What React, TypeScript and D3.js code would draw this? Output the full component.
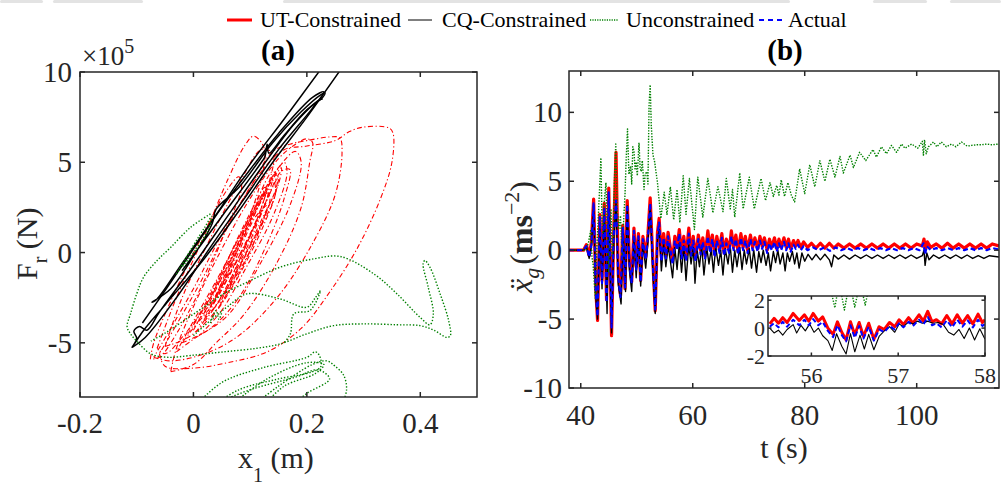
import React from 'react';
import * as d3 from 'd3';

type P = [number, number];

// ---------- Panel (b): time histories [t (s), x''_g (m/s^2)] ----------
const utMain: P[] = [[37.9,0],[40.5,0],[41.0,0.4],[41.5,-0.4],[41.9,0.6],[42.3,3.7],[42.7,-3.0],[43.0,-5.1],[43.4,2.6],[43.8,-2.2],[44.2,3.4],[44.6,-3.6],[45.0,4.5],[45.5,-6.2],[45.9,1.5],[46.3,7.1],[46.7,-1.8],[47.1,-3.3],[47.5,1.8],[47.9,-2.8],[48.3,3.6],[48.7,-0.8],[49.1,-2.3],[49.5,1.6],[49.9,-1.2],[50.3,1.2],[50.7,-2.2],[51.1,1.0],[51.6,-0.5],[52.0,1.2],[52.4,3.8],[52.9,-1.0],[53.3,-4.4],[53.7,1.3],[54.0,2.3],[54.4,-0.5],[54.8,1.2],[55.2,-0.4],[55.6,1.3],[56.0,0.2],[56.4,-0.8],[56.8,1.0],[57.2,0.2],[57.6,1.5],[58.0,-0.3],[58.4,1.0],[58.8,-0.5],[59.3,1.6],[59.7,-0.2],[60.1,1.0],[60.5,-0.6],[61.0,1.1],[61.4,0.0],[61.8,0.9],[62.2,-0.4],[62.7,1.4],[63.1,0.1],[63.5,1.1],[63.9,-0.3],[64.3,1.0],[64.8,0.0],[65.2,1.2],[65.6,-0.2],[66.0,0.8],[66.5,0.0],[66.9,1.4],[67.3,0.2],[67.7,1.1],[68.1,-0.1],[68.6,1.2],[69.0,0.2],[69.4,1.0],[69.8,0.0],[70.3,1.1],[70.7,0.2],[71.1,0.9],[71.6,0.1],[72.0,1.0],[72.4,0.3],[72.8,0.9],[73.3,0.0],[73.7,0.8],[74.1,0.2],[74.6,0.9],[75.0,0.1],[75.4,0.8],[75.8,0.2],[76.3,0.9],[76.7,0.2],[77.1,0.8],[77.5,0.1],[78.0,0.7],[78.4,0.3],[78.8,0.7],[79.3,0.2],[79.8,0.6],[80.5,0.2],[81.2,0.5],[82.0,0.15],[82.8,0.5],[83.6,0.15],[84.4,0.5],[85.2,0.15],[86.0,0.45],[87.0,0.15],[88.0,0.45],[89.0,0.15],[90.0,0.45],[91.0,0.15],[92.0,0.45],[93.0,0.15],[94.0,0.45],[95.0,0.15],[96.0,0.45],[97.0,0.15],[98.0,0.45],[99.0,0.15],[100.0,0.45],[101.0,0.3],[101.3,0.8],[101.6,0.1],[101.9,0.6],[102.5,0.2],[103.5,0.45],[104.5,0.15],[105.5,0.5],[106.5,0.15],[107.5,0.45],[108.5,0.15],[109.5,0.45],[110.5,0.15],[111.5,0.45],[112.5,0.15],[113.5,0.45],[114.7,0.3]];

const cqMain: P[] = [[37.9,0],[40.5,0],[41.0,0.3],[41.5,-0.6],[41.9,0.3],[42.3,3.3],[42.7,-3.5],[43.0,-5.0],[43.4,2.0],[43.8,-2.8],[44.2,3.0],[44.7,-4.6],[45.0,3.5],[45.5,-6.0],[45.9,0.8],[46.3,3.4],[46.7,-2.5],[47.2,-3.9],[47.6,1.2],[48.0,-3.0],[48.3,3.2],[48.7,-1.5],[49.1,-3.0],[49.5,1.0],[49.9,-2.0],[50.3,0.8],[50.7,-2.6],[51.1,0.5],[51.6,-1.3],[52.0,0.6],[52.4,3.3],[52.9,-1.8],[53.3,-4.6],[53.7,0.8],[54.0,1.5],[54.4,-1.5],[54.8,0.5],[55.2,-1.2],[55.6,0.3],[56.0,-0.8],[56.4,-2.0],[56.8,0.2],[57.2,-1.4],[57.6,0.5],[58.0,-1.6],[58.4,0.3],[58.8,-2.2],[59.3,0.4],[59.7,-1.0],[60.1,0.2],[60.4,-2.4],[60.8,0.0],[61.2,-1.2],[61.6,0.3],[62.0,-1.8],[62.5,0.2],[62.9,-1.0],[63.3,0.1],[63.7,-1.6],[64.1,0.2],[64.6,-1.1],[65.0,0.0],[65.4,-1.8],[65.8,0.1],[66.3,-1.0],[66.7,0.3],[67.1,-1.6],[67.5,0.0],[67.9,-1.2],[68.4,0.2],[68.8,-1.4],[69.2,0.0],[69.6,-1.0],[70.1,0.1],[70.5,-1.3],[70.9,0.0],[71.4,-1.6],[71.8,-0.1],[72.2,-0.9],[72.6,0.0],[73.1,-1.1],[73.5,-0.2],[73.9,-1.5],[74.4,-0.1],[74.8,-0.9],[75.2,0.0],[75.6,-1.0],[76.1,-0.2],[76.5,-1.5],[76.9,-0.2],[77.3,-0.8],[77.8,-0.1],[78.2,-1.0],[78.6,-0.2],[79.0,-1.3],[79.5,-0.2],[80.0,-0.8],[80.6,-0.3],[81.3,-0.7],[82.0,-0.3],[82.8,-0.7],[83.6,-0.3],[84.4,-0.7],[84.8,-1.2],[85.2,-0.35],[86.0,-0.65],[87.0,-0.35],[88.0,-0.65],[89.0,-0.35],[90.0,-0.6],[91.0,-0.35],[92.0,-0.6],[93.0,-0.35],[94.0,-0.6],[95.0,-0.35],[96.0,-0.6],[97.0,-0.35],[98.0,-0.6],[99.0,-0.35],[100.0,-0.6],[101.0,-0.4],[101.3,0.0],[101.5,-1.1],[101.8,-0.2],[102.2,-0.7],[103.0,-0.35],[104.0,-0.6],[105.0,-0.35],[106.0,-0.6],[107.0,-0.35],[108.0,-0.6],[109.0,-0.35],[110.0,-0.6],[111.0,-0.4],[112.0,-0.6],[113.0,-0.4],[114.7,-0.5]];

const unMain: P[] = [[37.9,0],[41.0,0],[41.4,0.6],[41.8,1.5],[42.0,-0.5],[42.2,-1.0],[42.6,-3.5],[42.9,0.5],[43.2,3.0],[43.6,6.7],[43.8,2.0],[44.0,0.8],[44.2,3.5],[44.5,4.9],[44.8,0.5],[45.0,-1.6],[45.2,1.5],[45.4,3.0],[45.6,-0.5],[45.8,0.5],[46.0,5.0],[46.25,7.7],[46.5,3.0],[46.8,1.5],[47.1,2.5],[47.4,-0.6],[47.7,2.5],[47.9,4.0],[48.1,6.5],[48.35,8.8],[48.6,5.5],[48.9,6.1],[49.1,4.8],[49.3,7.5],[49.5,7.2],[49.7,5.9],[49.9,6.4],[50.1,5.4],[50.4,7.8],[50.6,6.0],[50.8,5.7],[51.0,6.5],[51.3,4.4],[51.5,5.5],[51.8,5.7],[52.0,4.8],[52.2,10.5],[52.4,12.0],[52.6,9.0],[52.9,6.9],[53.2,6.4],[53.7,4.9],[54.3,2.3],[54.9,4.2],[55.4,2.6],[56.0,4.6],[56.6,2.2],[57.2,4.4],[57.7,2.0],[58.3,5.4],[58.8,2.6],[59.4,5.2],[60.3,1.5],[60.9,5.3],[61.8,2.4],[62.7,5.2],[63.6,2.7],[64.5,4.6],[65.4,2.8],[66.0,5.2],[66.7,3.0],[67.1,4.4],[67.5,2.4],[68.4,5.6],[69.0,3.0],[70.1,5.3],[71.0,3.0],[72.2,5.2],[73.0,3.6],[73.8,4.9],[74.4,3.9],[75.0,4.7],[75.4,4.0],[75.8,5.1],[76.4,3.9],[77.0,4.9],[77.6,4.0],[78.2,3.5],[79.1,5.9],[80.0,4.1],[80.9,6.2],[81.8,4.6],[82.7,6.5],[83.6,5.0],[84.5,6.6],[85.4,5.3],[86.3,6.8],[86.9,5.6],[88.1,6.9],[88.7,6.0],[89.8,7.1],[90.9,6.5],[92.2,7.3],[92.8,6.75],[93.7,7.5],[94.6,7.0],[95.5,7.6],[96.4,7.1],[97.3,7.7],[97.9,7.4],[99.1,7.7],[100.2,7.4],[101.0,7.9],[101.2,6.9],[101.4,8.0],[101.7,7.0],[102.1,7.5],[103.0,7.85],[103.6,7.5],[104.4,7.85],[105.3,7.5],[106.2,7.7],[107.0,7.5],[108.0,7.85],[109.0,7.55],[109.8,7.6],[110.8,7.65],[111.6,7.65],[112.5,7.7],[113.4,7.65],[114.7,7.7]];

const actMain: P[] = [[37.9,0],[40.5,0],[41.0,0.3],[41.5,-0.5],[41.9,0.4],[42.3,3.4],[42.7,-3.1],[43.0,-4.8],[43.4,2.4],[43.8,-2.4],[44.2,3.1],[44.6,-3.8],[45.0,4.2],[45.5,-5.6],[45.9,1.2],[46.3,3.6],[46.7,-2.0],[47.1,-3.4],[47.5,1.6],[47.9,-2.7],[48.3,3.3],[48.7,-1.0],[49.1,-2.4],[49.5,1.4],[49.9,-1.4],[50.3,1.0],[50.7,-2.3],[51.1,0.8],[51.6,-0.7],[52.0,1.0],[52.4,3.4],[52.9,-1.2],[53.3,-4.3],[53.7,1.1],[54.0,2.0],[54.4,-0.8],[54.8,0.9],[55.2,-0.6],[55.6,1.0],[56.0,0.0],[56.4,-1.0],[56.8,0.7],[57.2,0.0],[57.6,1.2],[58.0,-0.6],[58.4,0.7],[58.8,-0.8],[59.3,1.2],[59.7,-0.4],[60.1,0.7],[60.5,-0.8],[61.0,0.8],[61.4,-0.3],[61.8,0.6],[62.2,-0.6],[62.7,1.0],[63.1,-0.2],[63.5,0.8],[63.9,-0.5],[64.3,0.7],[64.8,-0.2],[65.2,0.9],[65.6,-0.4],[66.0,0.5],[66.5,-0.2],[66.9,1.0],[67.3,0.0],[67.7,0.8],[68.1,-0.3],[68.6,0.9],[69.0,0.0],[69.4,0.7],[69.8,-0.2],[70.3,0.8],[70.7,0.0],[71.1,0.6],[71.6,-0.1],[72.0,0.7],[72.4,0.1],[72.8,0.6],[73.3,-0.2],[73.7,0.5],[74.1,0.0],[74.6,0.6],[75.0,-0.1],[75.4,0.5],[75.8,0.0],[76.3,0.6],[76.7,0.0],[77.1,0.5],[77.5,-0.1],[78.0,0.4],[78.4,0.1],[78.8,0.4],[79.3,0.0],[79.8,0.3],[80.5,0.0],[81.5,0.2],[82.5,0.0],[83.5,0.2],[84.5,-0.05],[85.5,0.2],[86.5,0.0],[87.5,0.15],[88.5,0.0],[89.5,0.15],[90.5,0.0],[91.5,0.15],[92.5,0.0],[93.5,0.15],[94.5,0.0],[95.5,0.15],[96.5,0.0],[97.5,0.15],[98.5,0.0],[99.5,0.15],[100.5,0.0],[101.2,0.5],[101.5,-0.3],[101.8,0.3],[102.5,0.0],[103.5,0.15],[104.5,0.0],[105.5,0.15],[106.5,0.0],[107.5,0.15],[108.5,0.0],[109.5,0.15],[110.5,0.0],[111.5,0.15],[112.5,0.0],[113.5,0.15],[114.7,0.05]];

// ---------- Inset (t = 55.5 .. 58 s) ----------
const utInset: P[] = [[55.52,0.3],[55.57,0.7],[55.62,0.35],[55.67,0.75],[55.72,0.4],[55.79,1.05],[55.86,0.55],[55.92,0.95],[55.97,0.5],[56.02,1.05],[56.08,0.5],[56.13,0.8],[56.19,0.0],[56.25,-0.45],[56.30,0.45],[56.35,-0.3],[56.40,-0.85],[56.45,0.45],[56.50,-0.5],[56.55,0.4],[56.60,-0.6],[56.66,0.35],[56.72,-0.8],[56.78,0.1],[56.84,-0.1],[56.90,0.4],[56.96,0.1],[57.01,0.6],[57.06,0.25],[57.12,0.75],[57.17,0.35],[57.24,0.95],[57.29,0.5],[57.34,1.2],[57.39,0.45],[57.44,0.6],[57.50,0.3],[57.56,0.9],[57.62,0.3],[57.68,0.95],[57.74,0.35],[57.80,0.9],[57.86,0.3],[57.92,1.0],[57.97,0.4],[58.0,0.6]];
const cqInset: P[] = [[55.52,0.0],[55.57,-0.35],[55.62,-0.15],[55.67,-0.5],[55.72,-0.1],[55.79,0.25],[55.83,-0.35],[55.88,0.2],[55.93,-0.2],[55.98,0.3],[56.03,-0.3],[56.08,0.0],[56.13,-0.55],[56.19,-0.9],[56.24,-1.6],[56.29,-0.4],[56.35,-1.3],[56.40,-1.85],[56.45,-0.4],[56.50,-1.7],[56.56,-0.5],[56.61,-1.5],[56.66,-0.45],[56.72,-1.55],[56.78,-0.6],[56.84,-0.2],[56.90,0.1],[56.96,-0.3],[57.01,0.3],[57.06,0.1],[57.12,0.45],[57.17,0.3],[57.22,0.5],[57.28,0.35],[57.34,0.5],[57.40,0.35],[57.46,0.4],[57.52,0.25],[57.58,-0.3],[57.64,-0.5],[57.70,-0.1],[57.76,-0.75],[57.82,0.0],[57.88,-0.85],[57.94,-0.05],[58.0,-0.8]];
const actInset: P[] = [[55.52,0.1],[55.57,0.35],[55.62,0.05],[55.67,0.45],[55.72,0.1],[55.79,0.6],[55.86,0.2],[55.92,0.6],[55.97,0.2],[56.02,0.65],[56.08,0.2],[56.13,0.45],[56.19,-0.2],[56.25,-0.65],[56.30,0.2],[56.35,-0.5],[56.40,-0.95],[56.45,0.2],[56.50,-0.7],[56.55,0.15],[56.60,-0.75],[56.66,0.1],[56.72,-0.9],[56.78,-0.1],[56.84,-0.3],[56.90,0.15],[56.96,-0.1],[57.01,0.35],[57.06,0.05],[57.12,0.45],[57.17,0.15],[57.24,0.6],[57.29,0.25],[57.34,0.8],[57.39,0.2],[57.44,0.35],[57.50,0.05],[57.56,0.55],[57.62,0.05],[57.68,0.6],[57.74,0.1],[57.80,0.55],[57.86,0.05],[57.92,0.6],[57.97,0.15],[58.0,0.3]];
const unInset: P[] = [[55.5,3.5],[56.2,3.4],[56.27,1.45],[56.32,3.3],[56.38,1.3],[56.44,3.3],[56.50,1.5],[56.56,3.3],[56.62,1.65],[56.68,3.4],[58.0,3.6]];

// ---------- Panel (a): hysteresis [x1 (m), Fr (x1e5 N)] ----------
const utLoopsA: P[][] = [
  [[-0.06,-5.6],[-0.05,-6.3],[0.0,-6.4],[0.06,-6.1],[0.13,-5.5],[0.19,-4.2],[0.24,-2.2],[0.29,0.3],[0.33,3.0],[0.35,5.0],[0.352,6.6],[0.345,6.9],[0.3,6.95],[0.275,6.7],[0.25,6.2],[0.2,5.9],[0.16,5.7],[0.12,4.5],[0.07,2.0],[0.02,-1.2],[-0.03,-4.0],[-0.06,-5.6]],
  [[-0.07,-5.8],[-0.04,-6.0],[0.02,-5.6],[0.08,-4.6],[0.15,-2.4],[0.21,0.5],[0.25,3.2],[0.262,5.5],[0.258,6.35],[0.24,6.4],[0.2,6.2],[0.17,6.0],[0.14,5.6],[0.1,3.6],[0.05,1.0],[0.0,-2.0],[-0.04,-4.2],[-0.07,-5.8]],
  [[-0.04,-6.6],[0.0,-6.2],[0.04,-5.0],[0.09,-3.4],[0.15,-0.4],[0.19,2.5],[0.205,5.0],[0.21,6.1],[0.2,6.3],[0.18,6.0],[0.15,5.2],[0.1,3.0],[0.05,0.2],[0.0,-3.0],[-0.03,-5.3],[-0.04,-6.6]],
  [[-0.064,-5.3],[-0.03,-2.5],[0.02,1.0],[0.06,4.0],[0.09,5.9],[0.106,6.45],[0.12,6.1],[0.126,5.5],[0.115,3.5],[0.08,0.6],[0.03,-2.5],[-0.02,-4.7],[-0.05,-5.6],[-0.064,-5.3]],
  [[-0.076,-5.9],[-0.07,-5.0],[-0.03,-2.0],[0.02,1.2],[0.06,3.5],[0.08,4.2],[0.085,3.6],[0.06,1.5],[0.02,-1.5],[-0.03,-4.5],[-0.06,-5.8],[-0.076,-5.9]],
  [[-0.03,-5.5],[0.0,-4.8],[0.06,-3.5],[0.12,-0.5],[0.17,2.6],[0.19,5.0],[0.18,5.6],[0.15,4.7],[0.1,2.0],[0.05,-1.0],[0.0,-3.8],[-0.03,-5.5]],
  [[-0.05,-5.2],[0.0,-4.5],[0.05,-2.0],[0.1,1.0],[0.13,3.5],[0.14,5.5],[0.12,5.7],[0.08,3.8],[0.03,0.8],[-0.02,-2.5],[-0.05,-5.2]],
  [[-0.02,-5.0],[0.03,-4.2],[0.08,-2.5],[0.13,0.5],[0.16,3.0],[0.17,4.6],[0.155,4.5],[0.12,2.2],[0.07,-0.8],[0.02,-3.3],[-0.02,-5.0]],
  [[0.0,-4.0],[0.03,-2.3],[0.07,0.2],[0.11,2.6],[0.145,4.3],[0.155,4.7],[0.15,3.8],[0.12,1.8],[0.08,-0.8],[0.04,-2.9],[0.01,-4.0]],
  [[0.02,-3.6],[0.05,-1.8],[0.085,0.6],[0.12,2.9],[0.14,4.0],[0.145,3.4],[0.125,1.6],[0.09,-0.7],[0.055,-2.6],[0.03,-3.7]],
  [[0.03,-3.0],[0.06,-1.0],[0.1,1.6],[0.13,3.3],[0.135,3.0],[0.115,1.2],[0.08,-1.2],[0.045,-3.0]],
  [[0.01,-3.8],[0.04,-2.6],[0.08,-0.2],[0.12,2.3],[0.15,4.2],[0.14,2.8],[0.1,0.4],[0.06,-2.0],[0.02,-3.8]],
  [[-0.01,-4.5],[0.02,-3.0],[0.07,0.0],[0.12,3.0],[0.16,5.0],[0.165,4.4],[0.14,2.0],[0.09,-1.0],[0.05,-3.2],[0.01,-4.6]],
  [[0.04,-2.5],[0.075,-0.3],[0.11,2.0],[0.13,2.6],[0.12,1.5],[0.09,-0.5],[0.055,-2.3]],
  [[0.02,-3.3],[0.05,-1.4],[0.09,1.1],[0.125,3.3],[0.14,4.2],[0.13,3.0],[0.1,0.9],[0.065,-1.5],[0.035,-3.2]],
  [[0.035,-2.8],[0.065,-0.8],[0.1,1.8],[0.125,3.6],[0.132,3.5],[0.11,1.4],[0.075,-1.0],[0.045,-2.9]],
  [[0.0,-4.3],[0.035,-2.2],[0.075,0.6],[0.11,2.8],[0.14,4.5],[0.148,4.0],[0.125,2.0],[0.085,-0.6],[0.045,-3.0],[0.005,-4.4]],
  [[0.045,-2.0],[0.08,0.5],[0.115,2.8],[0.128,3.4],[0.12,2.5],[0.09,0.2],[0.06,-1.8]],
];

const cqPathsA: P[][] = [
  [[-0.02,-1.0],[0.05,2.0],[0.12,5.0],[0.126,5.3],[0.13,6.0],[0.133,5.5],[0.16,6.5],[0.2,7.9],[0.228,8.6],[0.232,8.85],[0.225,8.75],[0.19,7.8],[0.14,6.1],[0.08,3.6],[0.04,2.4],[0.033,1.6],[0.0,-0.2],[-0.04,-2.0],[-0.073,-2.75],[-0.065,-2.6],[-0.02,-0.6],[0.04,2.1],[0.1,4.9],[0.16,7.4],[0.235,10.6]],
  [[0.27,10.6],[0.2,7.5],[0.14,5.0],[0.08,2.3],[0.02,-0.3],[-0.05,-2.9],[-0.09,-4.4],[-0.108,-5.25],[-0.1,-4.75],[-0.105,-4.35],[-0.095,-4.1],[-0.082,-4.3],[-0.06,-3.3],[0.0,-0.7],[0.06,2.0],[0.12,4.7],[0.18,7.2],[0.222,8.45],[0.228,8.5]],
  [[-0.09,-3.9],[-0.05,-2.1],[0.0,0.2],[0.05,2.5],[0.1,4.6],[0.15,6.6],[0.21,8.6],[0.23,8.9],[0.21,8.0],[0.15,5.7],[0.09,3.0],[0.03,0.3],[-0.03,-2.5],[-0.085,-4.7],[-0.108,-5.25]],
];

const unPathsA: P[][] = [
  [[0.03,2.14],[-0.005,1.4],[-0.04,0.29],[-0.064,-0.44],[-0.088,-1.37],[-0.1,-2.29],[-0.111,-3.4],[-0.117,-4.1],[-0.111,-4.5],[-0.1,-4.9],[-0.076,-5.6],[-0.046,-5.8],[-0.005,-5.7],[0.053,-5.5],[0.112,-5.3],[0.153,-5.06],[0.2,-4.5],[0.247,-4.05],[0.3,-3.95],[0.359,-4.0],[0.4,-4.05],[0.424,-4.3],[0.447,-4.7],[0.453,-4.6],[0.45,-3.77],[0.435,-2.29],[0.417,-0.81],[0.408,-0.44],[0.405,-0.63],[0.414,-1.92],[0.423,-3.4],[0.417,-4.0],[0.4,-3.6],[0.359,-2.29],[0.318,-1.18],[0.259,-0.22],[0.212,-0.35],[0.153,-0.81],[0.094,-1.65],[0.053,-2.29],[0.018,-3.03],[-0.017,-3.77],[-0.052,-4.5],[-0.075,-4.9]],
  [[0.0,-4.6],[0.036,-3.6],[0.06,-3.0],[0.094,-2.29],[0.153,-2.57],[0.2,-3.03],[0.215,-2.5],[0.224,-2.11],[0.206,-3.2],[0.177,-3.4],[0.171,-4.5],[0.16,-5.0]],
  [[0.03,-3.9],[0.04,-3.2],[0.045,-3.7],[0.05,-3.3]],
  [[-0.03,-1.2],[0.0,0.4],[0.02,1.4],[0.032,2.0],[0.025,1.2],[0.005,0.2],[-0.02,-0.8]],
  [[0.0,-8.6],[0.05,-7.2],[0.12,-6.4],[0.2,-5.8],[0.215,-5.5],[0.222,-5.7],[0.225,-6.3],[0.21,-6.6],[0.15,-7.0],[0.08,-7.6],[0.03,-8.6]],
  [[0.1,-8.6],[0.15,-7.4],[0.21,-6.2],[0.235,-6.0],[0.25,-6.3],[0.265,-6.8],[0.27,-7.6],[0.26,-8.6]],
  [[0.06,-8.6],[0.13,-7.0],[0.2,-6.1],[0.23,-6.2],[0.215,-6.7],[0.16,-7.4],[0.12,-8.6]],
  [[0.02,-8.6],[0.1,-7.6],[0.18,-6.9],[0.22,-6.5],[0.24,-7.0],[0.2,-7.8],[0.17,-8.6]],
];

// ---------- Ticks & labels ----------
const xTicksA = [-0.2, 0, 0.2, 0.4];
const yTicksA = [-5, 0, 5, 10];
const xTicksB = [40, 60, 80, 100];
const yTicksB = [-10, -5, 0, 5, 10];
const xTicksI = [56, 57, 58];
const yTicksI = [-2, 0, 2];
const legendLabels = ['UT-Constrained', 'CQ-Constrained', 'Unconstrained', 'Actual'];

const FONT = "'Liberation Serif', 'Times New Roman', Times, serif";
const AX = '#262626';

function Box({ x, y, xt, yt, l, r, t, b, len }: any) {
  return (
    <g stroke={AX} strokeWidth={1.5} fill="none">
      <rect x={l} y={t} width={r - l} height={b - t} />
      {xt.map((v: number) => (
        <g key={'x' + v}>
          <line x1={x(v)} x2={x(v)} y1={b} y2={b - len} />
          <line x1={x(v)} x2={x(v)} y1={t} y2={t + len} />
        </g>
      ))}
      {yt.map((v: number) => (
        <g key={'y' + v}>
          <line x1={l} x2={l + len} y1={y(v)} y2={y(v)} />
          <line x1={r} x2={r - len} y1={y(v)} y2={y(v)} />
        </g>
      ))}
    </g>
  );
}

export default function App() {
  // panel (a)
  const xA = d3.scaleLinear().domain([-0.2, 0.5]).range([80, 477]);
  const yA = d3.scaleLinear().domain([-8, 10]).range([397, 72]);
  // panel (b)
  const xB = d3.scaleLinear().domain([37.9, 114.7]).range([569, 999]);
  const yB = d3.scaleLinear().domain([-10, 13]).range([388, 71]);
  // inset
  const xI = d3.scaleLinear().domain([55.5, 58]).range([768, 985]);
  const yI = d3.scaleLinear().domain([-2, 2.3]).range([356, 296]);

  const lineA = d3.line<P>().x(d => xA(d[0])).y(d => yA(d[1])).curve(d3.curveCatmullRom.alpha(0.5));
  const lineB = d3.line<P>().x(d => xB(d[0])).y(d => yB(d[1]));
  const lineI = d3.line<P>().x(d => xI(d[0])).y(d => yI(d[1]));

  const fmtA = (v: number) => (v === 0 ? '0' : String(v));

  const legendX = [227, 408, 590, 759];
  const legendTextX = [260, 442, 626, 788];

  return (
    <svg width={1001} height={485} style={{ position: 'absolute', left: 0, top: 0 }} fontFamily={FONT}>
      <rect width={1001} height={485} fill="#fff" />
      <g fill="#e3e3e3">
        <rect x={0} y={0} width={43} height={3} rx={1.5} />
        <rect x={53} y={0} width={90} height={3} rx={1.5} />
        <rect x={283} y={0} width={507} height={3} rx={1.5} />
        <rect x={873} y={0} width={54} height={3} rx={1.5} />
        <rect x={950} y={0} width={51} height={3} rx={1.5} />
      </g>
      <defs>
        <clipPath id="clipA"><rect x={80} y={72} width={397} height={325} /></clipPath>
        <clipPath id="clipB"><rect x={569} y={71} width={430} height={317} /></clipPath>
        <clipPath id="clipI"><rect x={768} y={296} width={217} height={60} /></clipPath>
      </defs>

      {/* Legend */}
      <g>
        <line x1={legendX[0]} x2={legendX[0] + 25} y1={20} y2={20} stroke="#ff0000" strokeWidth={3} />
        <line x1={legendX[1]} x2={legendX[1] + 24} y1={20} y2={20} stroke="#000" strokeWidth={1} />
        <line x1={legendX[2]} x2={legendX[2] + 28} y1={20} y2={20} stroke="#008000" strokeWidth={1.3} strokeDasharray="1.2,1.2" />
        <line x1={legendX[3]} x2={legendX[3] + 27} y1={20} y2={20} stroke="#0000ff" strokeWidth={2} strokeDasharray="5,4" />
        {legendLabels.map((s, i) => (
          <text key={s} x={legendTextX[i]} y={27} fontSize={22} fill="#000">{s}</text>
        ))}
      </g>

      {/* ================= Panel (a) ================= */}
      <text x={278} y={60} fontSize={29} fontWeight="bold" textAnchor="middle" fill="#000">(a)</text>
      <text x={82} y={65} fontSize={27} fill={AX}>×10<tspan fontSize={20} dy={-12}>5</tspan></text>
      <g clipPath="url(#clipA)" fill="none">
        {utLoopsA.map((p, i) => (
          <path key={'u' + i} d={lineA(p) || ''} stroke="#ff0000" strokeWidth={1.1} strokeDasharray="5,2.5,1.2,2.5" />
        ))}
        {cqPathsA.map((p, i) => (
          <path key={'c' + i} d={lineA(p) || ''} stroke="#000" strokeWidth={1.5} />
        ))}
        {unPathsA.map((p, i) => (
          <path key={'g' + i} d={lineA(p) || ''} stroke="#008000" strokeWidth={1.4} strokeDasharray="1.4,1.8" />
        ))}
      </g>
      <Box x={xA} y={yA} xt={xTicksA} yt={yTicksA} l={80} r={477} t={72} b={397} len={5} />
      {xTicksA.map(v => (
        <text key={v} x={xA(v)} y={433} fontSize={29} textAnchor="middle" fill={AX}>{fmtA(v)}</text>
      ))}
      {yTicksA.map(v => (
        <text key={v} x={72} y={yA(v) + 10} fontSize={29} textAnchor="end" fill={AX}>{v}</text>
      ))}
      <text x={238} y={468} fontSize={30} fill={AX}>x<tspan fontSize={20} dy={14}>1</tspan><tspan dy={-14}> (m)</tspan></text>
      <text transform="translate(37,280) rotate(-90)" fontSize={30} fill={AX}>F<tspan fontSize={20} dy={10}>r</tspan><tspan dy={-10}> (N)</tspan></text>

      {/* ================= Panel (b) ================= */}
      <text x={785} y={60} fontSize={29} fontWeight="bold" textAnchor="middle" fill="#000">(b)</text>
      <g clipPath="url(#clipB)" fill="none" strokeLinejoin="round">
        <path d={lineB(utMain) || ''} stroke="#ff0000" strokeWidth={3.2} />
        <path d={lineB(cqMain) || ''} stroke="#000" strokeWidth={1.4} />
        <path d={lineB(unMain) || ''} stroke="#008000" strokeWidth={1.4} strokeDasharray="1.4,1.4" />
        <path d={lineB(actMain) || ''} stroke="#0000ff" strokeWidth={2.2} strokeDasharray="5,3" />
      </g>
      <Box x={xB} y={yB} xt={xTicksB} yt={yTicksB} l={569} r={999} t={71} b={388} len={5} />
      {xTicksB.map(v => (
        <text key={v} x={xB(v)} y={425} fontSize={29} textAnchor="middle" fill={AX}>{v}</text>
      ))}
      {yTicksB.map(v => (
        <text key={v} x={562} y={yB(v) + 10} fontSize={29} textAnchor="end" fill={AX}>{v}</text>
      ))}
      <text x={784} y={458} fontSize={30} textAnchor="middle" fill={AX}>t (s)</text>
      <text transform="translate(532,237) rotate(-90)" fontSize={32} textAnchor="middle" fill={AX}>
        <tspan fontStyle="italic">ẍ</tspan>
        <tspan fontStyle="italic" fontSize={22} dy={7}>g</tspan>
        <tspan dy={-7} dx={3}>(</tspan>
        <tspan fontWeight="bold">ms</tspan>
        <tspan fontSize={22} dy={-13}>−2</tspan>
        <tspan dy={13}>)</tspan>
      </text>

      {/* Inset */}
      <rect x={768} y={296} width={217} height={60} fill="#fff" />
      <g clipPath="url(#clipI)" fill="none" strokeLinejoin="round">
        <path d={lineI(utInset) || ''} stroke="#ff0000" strokeWidth={3} />
        <path d={lineI(cqInset) || ''} stroke="#000" strokeWidth={1.1} />
        <path d={lineI(unInset) || ''} stroke="#008000" strokeWidth={1.4} strokeDasharray="1.4,1.4" />
        <path d={lineI(actInset) || ''} stroke="#0000ff" strokeWidth={2} strokeDasharray="5,3" />
      </g>
      <Box x={xI} y={yI} xt={xTicksI} yt={yTicksI} l={768} r={985} t={296} b={356} len={3.5} />
      {xTicksI.map(v => (
        <text key={v} x={xI(v)} y={383} fontSize={22} textAnchor="middle" fill={AX}>{v}</text>
      ))}
      {yTicksI.map(v => (
        <text key={v} x={765} y={yI(v) + 8} fontSize={22} textAnchor="end" fill={AX}>{v}</text>
      ))}
    </svg>
  );
}
